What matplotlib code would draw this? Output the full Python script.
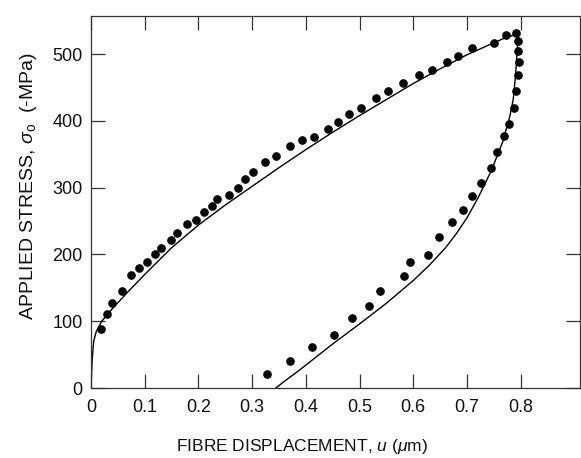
import matplotlib
matplotlib.use("Agg")
import matplotlib.pyplot as plt

plt.rcParams['font.family'] = ['Liberation Sans', 'DejaVu Sans']
plt.rcParams['mathtext.fontset'] = 'custom'
plt.rcParams['mathtext.rm'] = 'Liberation Sans'
plt.rcParams['mathtext.it'] = 'Liberation Sans:italic'

# measured points, loading branch
load_u = [0.018, 0.029, 0.040, 0.058, 0.074, 0.090, 0.104, 0.120, 0.131, 0.149,
          0.161, 0.178, 0.196, 0.210, 0.225, 0.235, 0.256, 0.273, 0.287, 0.302,
          0.324, 0.344, 0.370, 0.393, 0.415, 0.441, 0.459, 0.481, 0.502, 0.530,
          0.553, 0.581, 0.610, 0.635, 0.662, 0.684, 0.710, 0.750, 0.773, 0.792]
load_s = [88, 111, 127, 145, 169, 180, 189, 201, 210, 222,
          232, 246, 252, 263, 272, 283, 289, 299, 313, 323,
          338, 347, 362, 371, 376, 388, 398, 410, 419, 435,
          445, 456, 468, 476, 488, 497, 509, 517, 528, 531]

# measured points, unloading branch
unload_u = [0.794, 0.795, 0.796, 0.794, 0.791, 0.787, 0.779, 0.768, 0.755, 0.744,
            0.726, 0.710, 0.693, 0.672, 0.647, 0.628, 0.593, 0.583, 0.538, 0.518,
            0.485, 0.453, 0.412, 0.370, 0.327]
unload_s = [519, 505, 488, 469, 445, 419, 396, 378, 353, 330,
            307, 288, 267, 249, 226, 199, 189, 167, 145, 123,
            105, 79, 61, 40, 21]

# model curves
model_load_u = [0, 0.002, 0.005, 0.01, 0.02, 0.04, 0.07, 0.10, 0.15, 0.20, 0.25,
                0.30, 0.35, 0.40, 0.45, 0.50, 0.55, 0.60, 0.65, 0.70, 0.75,
                0.77, 0.79, 0.795]
model_load_s = [0, 40, 70, 85, 100, 119, 145, 170, 210, 244, 274,
                302, 330, 357, 383, 408, 432, 456, 478, 499, 517,
                524, 529, 531]

model_unload_u = [0.344, 0.36, 0.39, 0.42, 0.45, 0.50, 0.55, 0.60, 0.63, 0.66,
                  0.68, 0.70, 0.72, 0.745, 0.767, 0.78, 0.786, 0.79, 0.793, 0.795]
model_unload_s = [0, 10, 28, 47, 66, 96, 127, 161, 184, 210,
                  231, 255, 284, 325, 370, 408, 432, 465, 500, 531]

fig = plt.figure(figsize=(5.81, 4.58), dpi=100)
ax = fig.add_axes([0.1566, 0.1528, 0.8414, 0.8122])

ax.plot(model_load_u, model_load_s, color='black', lw=1.0)
ax.plot(model_unload_u, model_unload_s, color='black', lw=1.0)
ax.plot(load_u, load_s, 'o', color='black', ms=5.2)
ax.plot(unload_u, unload_s, 'o', color='black', ms=5.2)

ax.set_xlim(0, 0.91)
ax.set_ylim(0, 557)
ax.set_xticks([0, 0.1, 0.2, 0.3, 0.4, 0.5, 0.6, 0.7, 0.8])
ax.set_xticklabels(['0', '0.1', '0.2', '0.3', '0.4', '0.5', '0.6', '0.7', '0.8'])
ax.set_yticks([0, 100, 200, 300, 400, 500])

ax.tick_params(direction='in', length=10, width=0.9, top=True, right=True,
               labelsize=13, color='#333333', labelcolor='#111111')
ax.tick_params(axis='x', pad=8)
ax.tick_params(axis='y', pad=6)
for sp in ax.spines.values():
    sp.set_linewidth(0.9)
    sp.set_color('#333333')

ax.set_xlabel(r'FIBRE DISPLACEMENT, $\it{u}$ ($\mu$m)', fontsize=12.5, color='#111111')
ax.set_ylabel(r'APPLIED STRESS, $\sigma_{\rm o}$  (-MPa)', fontsize=14, color='#111111')
ax.xaxis.set_label_coords(0.431, -0.132)
ax.yaxis.set_label_coords(-0.106, 0.543)

fig.savefig('out.png', dpi=100)
